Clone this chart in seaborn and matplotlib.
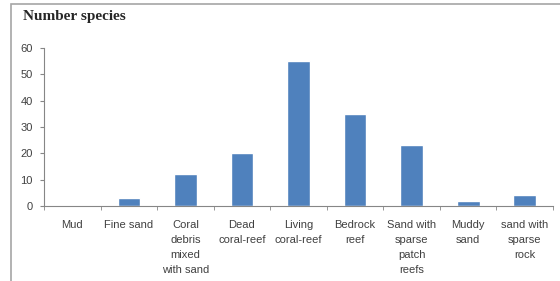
import pandas as pd
import matplotlib.pyplot as plt
import seaborn as sns
from matplotlib.patches import Rectangle
from matplotlib.ticker import FixedLocator

# habitat types and number of species
habitats = ['Mud', 'Fine sand', 'Coral\ndebris\nmixed\nwith sand', 'Dead\ncoral-reef',
            'Living\ncoral-reef', 'Bedrock\nreef', 'Sand with\nsparse\npatch\nreefs',
            'Muddy\nsand', 'sand with\nsparse\nrock']
species = [0, 3, 12, 20, 55, 35, 23, 2, 4]
yticks = [0, 10, 20, 30, 40, 50, 60]

df = pd.DataFrame({'habitat': habitats, 'species': species})

sns.set_style('white')
plt.rcParams['font.family'] = ['Liberation Sans Narrow', 'Liberation Sans', 'DejaVu Sans']

fig = plt.figure(figsize=(5.6, 2.81), dpi=100)
ax = fig.add_axes([0.0786, 0.267, 0.909, 0.562])

sns.barplot(data=df, x='habitat', y='species', color='#4F81BD', width=0.4,
            saturation=1, ax=ax)

ax.set_ylim(0, 60)
ax.set_xlim(-0.5, len(habitats) - 0.5)
ax.set_yticks(yticks)
ax.set_xlabel('')
ax.set_ylabel('')

for s in ['top', 'right']:
    ax.spines[s].set_visible(False)
for s in ['left', 'bottom']:
    ax.spines[s].set_color('#868686')
    ax.spines[s].set_linewidth(0.8)

# ticks sit between categories on x
ax.xaxis.set_minor_locator(FixedLocator([i + 0.5 for i in range(-1, len(habitats))]))
ax.tick_params(axis='x', which='major', length=0, labelsize=8, labelcolor='#404040', pad=10)
ax.tick_params(axis='x', which='minor', length=3, color='#868686', direction='out', bottom=True)
ax.tick_params(axis='y', length=3, color='#868686', direction='out', left=True,
               labelsize=8, labelcolor='#404040', pad=5)
for lab in ax.get_xticklabels():
    lab.set_linespacing(1.65)
    lab.set_multialignment('center')

fig.text(0.041, 0.94, 'Number species', fontsize=11, fontweight='bold',
         family=['Liberation Serif', 'DejaVu Serif'], va='center', ha='left')

# outer frame of the chart area
fig.patches.append(Rectangle((11 / 560, -0.2), 1.2, 1.2 - 4 / 281, transform=fig.transFigure,
                             fill=False, edgecolor='#a6a6a6', linewidth=1.2, zorder=0))

fig.savefig('out.png', dpi=100)
